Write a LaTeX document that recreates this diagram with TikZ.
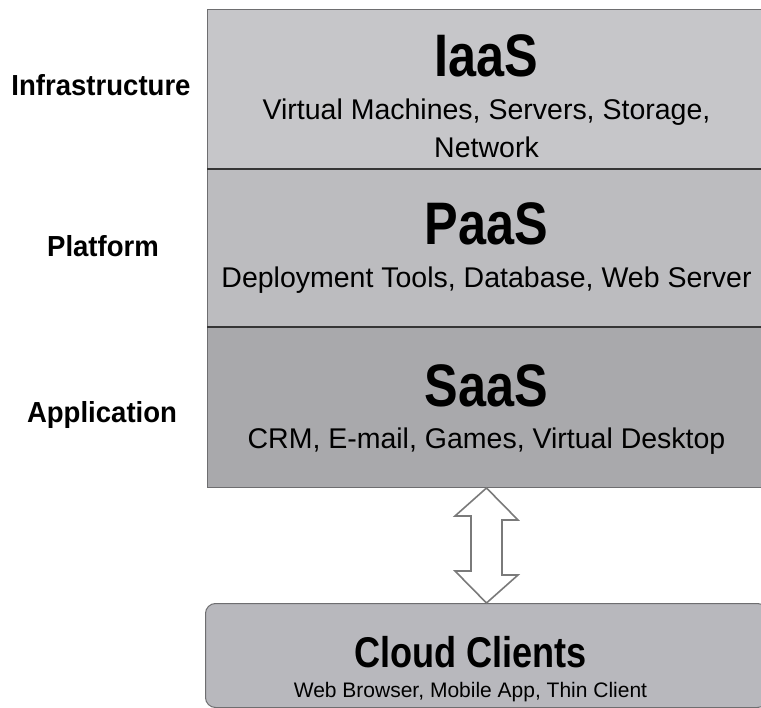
\documentclass[tikz,border=0pt]{standalone}
\usepackage{fontspec}
\setmainfont{Liberation Sans}
\newfontfamily\narrowfont[FakeStretch=0.84]{Liberation Sans}
\newfontfamily\sidefont[FakeStretch=0.95]{Liberation Sans}
\usepackage{tikz}
\usetikzlibrary{positioning,calc}
\definecolor{iaasgray}{HTML}{C6C6C9}
\definecolor{paasgray}{HTML}{BCBCBF}
\definecolor{saasgray}{HTML}{A9A9AC}
\definecolor{clientgray}{HTML}{B8B8BD}
\definecolor{edgegray}{HTML}{6E6E70}
\definecolor{rulegray}{HTML}{353535}
\definecolor{arrowgray}{HTML}{7A7A7A}

\begin{document}
\begin{tikzpicture}[x=1pt,y=1pt,
    layer/.style={draw=edgegray,line width=1pt,minimum width=558pt,inner sep=0pt},
    title/.style={font=\narrowfont\bfseries\fontsize{60}{62}\selectfont,anchor=base,inner sep=0pt},
    detail/.style={font=\fontsize{28.5}{32}\selectfont,anchor=base,inner sep=0pt},
    side/.style={font=\sidefont\bfseries\fontsize{29}{32}\selectfont,anchor=base,inner sep=0pt},
    arrowline/.style={draw=arrowgray,line width=1.6pt,fill=white,line join=miter}]
  \useasboundingbox (0,0) rectangle (761,-708);
  \clip (0,0) rectangle (761,-708);

  % the service stack
  \node[layer,fill=iaasgray,minimum height=159pt,anchor=north west] (iaas) at (207,-9) {};
  \node[layer,fill=paasgray,minimum height=157pt,below=0pt of iaas] (paas) {};
  \node[layer,fill=saasgray,minimum height=160pt,below=0pt of paas] (saas) {};
  \draw[rulegray,line width=2pt] (iaas.south west) -- (iaas.south east);
  \draw[rulegray,line width=2pt] (paas.south west) -- (paas.south east);

  \node[title] (iaastitle) at ($(iaas.north)+(0,-67.5)$) {IaaS};
  \node[detail] (iaasinfo) at ($(iaas.north)+(0,-111)$) {Virtual Machines, Servers, Storage,};
  \node[detail] (iaasnet) at ($(iaas.north)+(0,-149)$) {Network};
  \node[title] (paastitle) at ($(paas.north)+(0,-75.5)$) {PaaS};
  \node[detail] (paasinfo) at ($(paas.north)+(0,-119)$) {Deployment Tools, Database, Web Server};
  \node[title] (saastitle) at ($(saas.north)+(0,-79.5)$) {SaaS};
  \node[detail] (saasinfo) at ($(saas.north)+(0,-122)$) {CRM, E-mail, Games, Virtual Desktop};

  % layer names on the left
  \node[side] (infra) at ($(iaas.west)+(-106,-7)$) {Infrastructure};
  \node[side] (platform) at ($(paas.west)+(-104,-9)$) {Platform};
  \node[side] (application) at ($(saas.west)+(-105,-15.5)$) {Application};

  % client box
  \node[layer,fill=clientgray,minimum width=562pt,minimum height=104pt,rounded corners=10pt,anchor=north west] (clients) at (205,-603) {};
  \node[title,font=\narrowfont\bfseries\fontsize{43}{45}\selectfont] (clienttitle) at ($(clients.north)+(-16,-64)$) {Cloud Clients};
  \node[detail,font=\fontsize{21}{24}\selectfont] (clientinfo) at ($(clients.north)+(-16,-94.5)$) {Web Browser, Mobile App, Thin Client};

  % hollow double arrow
  \draw[arrowline] (saas.south) -- ++(31.5,-32) -- ++(-16,0) -- ++(0,-55) -- ++(16,0)
    -- (clients.north) -- ++(-31.5,32) -- ++(16,0) -- ++(0,55) -- ++(-16,0) -- cycle;
\end{tikzpicture}
\end{document}
